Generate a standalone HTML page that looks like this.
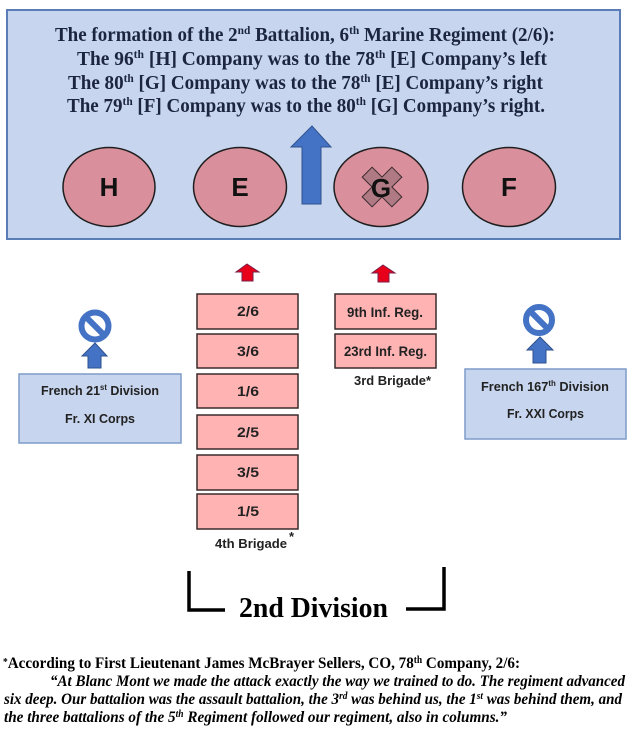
<!DOCTYPE html>
<html>
<head>
<meta charset="utf-8">
<style>
  html,body{margin:0;padding:0;background:#fff;}
  svg{display:block;}
  .serif{font-family:"Liberation Serif","Times New Roman",serif;}
  .sans{font-family:"Liberation Sans",Arial,sans-serif;}
</style>
</head>
<body>
<svg width="630" height="750" viewBox="0 0 630 750" xmlns="http://www.w3.org/2000/svg">
  <rect x="0" y="0" width="630" height="750" fill="#ffffff"/>

  <!-- Top box -->
  <rect x="7" y="10" width="613" height="229" fill="#c7d5ee" stroke="#5b7db5" stroke-width="2"/>

  <g class="serif" font-weight="bold" font-size="20" fill="#1c2540">
    <text x="55" y="41" textLength="500" lengthAdjust="spacingAndGlyphs">The formation of the 2<tspan dy="-7" font-size="12">nd</tspan><tspan dy="7"> Battalion, 6</tspan><tspan dy="-7" font-size="12">th</tspan><tspan dy="7"> Marine Regiment (2/6):</tspan></text>
    <text x="77" y="65" textLength="470" lengthAdjust="spacingAndGlyphs">The 96<tspan dy="-7" font-size="12">th</tspan><tspan dy="7"> [H] Company was to the 78</tspan><tspan dy="-7" font-size="12">th</tspan><tspan dy="7"> [E] Company’s left</tspan></text>
    <text x="68" y="89" textLength="475" lengthAdjust="spacingAndGlyphs">The 80<tspan dy="-7" font-size="12">th</tspan><tspan dy="7"> [G] Company was to the 78</tspan><tspan dy="-7" font-size="12">th</tspan><tspan dy="7"> [E] Company’s right</tspan></text>
    <text x="67" y="112" textLength="478" lengthAdjust="spacingAndGlyphs">The 79<tspan dy="-7" font-size="12">th</tspan><tspan dy="7"> [F] Company was to the 80</tspan><tspan dy="-7" font-size="12">th</tspan><tspan dy="7"> [G] Company’s right.</tspan></text>
  </g>

  <!-- Big blue arrow -->
  <polygon points="312,126 331,147 321,147 321,204 302,204 302,147 291,147" fill="#4472c4" stroke="#2f528f" stroke-width="1"/>

  <!-- Company circles -->
  <g fill="#d9909c" stroke="#1e1e1e" stroke-width="1.5">
    <ellipse cx="109" cy="187" rx="46" ry="39.5"/>
    <ellipse cx="240" cy="187" rx="46.5" ry="39.5"/>
    <ellipse cx="381" cy="187" rx="47" ry="39.5"/>
    <ellipse cx="509" cy="187" rx="46.5" ry="39.5"/>
  </g>
  <!-- X over G -->
  <g transform="translate(382,187) rotate(45)">
    <path d="M-7,-21 L7,-21 L7,-7 L21,-7 L21,7 L7,7 L7,21 L-7,21 L-7,7 L-21,7 L-21,-7 L-7,-7 Z" fill="#b07a84" stroke="#3a2a2e" stroke-width="1"/>
  </g>
  <g class="sans" font-weight="bold" font-size="26" fill="#111" text-anchor="middle">
    <text x="109" y="196">H</text>
    <text x="240" y="196">E</text>
    <text x="381" y="197">G</text>
    <text x="509" y="196">F</text>
  </g>

  <!-- Red arrows -->
  <polygon points="247,264 259,272 253,272 253,281 242,281 242,272 236,272" fill="#e8001a" stroke="#7a1f4a" stroke-width="1"/>
  <polygon points="383,265 395,273 389,273 389,282 378,282 378,273 372,273" fill="#e8001a" stroke="#7a1f4a" stroke-width="1"/>

  <!-- 4th Brigade column -->
  <g fill="#ffb3b3" stroke="#3a2a2a" stroke-width="1.5">
    <rect x="197" y="294" width="101" height="35"/>
    <rect x="197" y="334" width="101" height="34"/>
    <rect x="197" y="374" width="101" height="34"/>
    <rect x="197" y="415" width="101" height="34"/>
    <rect x="197" y="455" width="101" height="35"/>
    <rect x="197" y="494" width="101" height="35"/>
    <rect x="335" y="294" width="101" height="35"/>
    <rect x="335" y="334" width="101" height="34"/>
  </g>
  <g class="sans" font-weight="bold" font-size="14" fill="#222">
    <text x="237" y="316" textLength="22" lengthAdjust="spacingAndGlyphs">2/6</text>
    <text x="237" y="356" textLength="22" lengthAdjust="spacingAndGlyphs">3/6</text>
    <text x="237" y="396" textLength="22" lengthAdjust="spacingAndGlyphs">1/6</text>
    <text x="237" y="437" textLength="22" lengthAdjust="spacingAndGlyphs">2/5</text>
    <text x="237" y="477" textLength="22" lengthAdjust="spacingAndGlyphs">3/5</text>
    <text x="237" y="516" textLength="22" lengthAdjust="spacingAndGlyphs">1/5</text>
    <text x="347" y="317" textLength="76" lengthAdjust="spacingAndGlyphs">9th Inf. Reg.</text>
    <text x="344" y="356" textLength="83" lengthAdjust="spacingAndGlyphs">23rd Inf. Reg.</text>
    <text x="354" y="385" font-size="13" textLength="77" lengthAdjust="spacingAndGlyphs">3rd Brigade*</text>
    <text x="215" y="548" font-size="13" textLength="72" lengthAdjust="spacingAndGlyphs">4th Brigade</text>
    <text x="289" y="541" font-size="13">*</text>
  </g>

  <!-- French boxes -->
  <rect x="19" y="374" width="162" height="69" fill="#c7d5ee" stroke="#7f9cc9" stroke-width="1.5"/>
  <rect x="465" y="369" width="161" height="70" fill="#c7d5ee" stroke="#7f9cc9" stroke-width="1.5"/>
  <g class="sans" font-weight="bold" font-size="13" fill="#222">
    <text x="41" y="395" textLength="118" lengthAdjust="spacingAndGlyphs">French 21<tspan dy="-5" font-size="8">st</tspan><tspan dy="5"> Division</tspan></text>
    <text x="65" y="423" textLength="70" lengthAdjust="spacingAndGlyphs">Fr. XI Corps</text>
    <text x="481" y="391" textLength="128" lengthAdjust="spacingAndGlyphs">French 167<tspan dy="-5" font-size="8">th</tspan><tspan dy="5"> Division</tspan></text>
    <text x="507" y="418" textLength="77" lengthAdjust="spacingAndGlyphs">Fr. XXI Corps</text>
  </g>

  <!-- Blue small arrows -->
  <polygon points="95,343 107,356 101,356 101,368 88,368 88,356 82,356" fill="#4472c4" stroke="#2f528f" stroke-width="1"/>
  <polygon points="540,337 553,350 546,350 546,363 533,363 533,350 527,350" fill="#4472c4" stroke="#2f528f" stroke-width="1"/>

  <!-- No symbols -->
  <g stroke="#4472c4" fill="#ffffff">
    <circle cx="95" cy="326" r="13.5" stroke-width="6"/>
    <line x1="86" y1="317" x2="104" y2="335" stroke-width="6"/>
    <circle cx="539" cy="320" r="13" stroke-width="6"/>
    <line x1="530" y1="311" x2="548" y2="329" stroke-width="6"/>
  </g>

  <!-- 2nd Division bracket -->
  <g stroke="#000" stroke-width="3.5" fill="none">
    <polyline points="189,571 189,610 225,610"/>
    <polyline points="406,609 444,609 444,567"/>
  </g>
  <text class="serif" x="239" y="617" font-weight="bold" font-size="29" fill="#000" textLength="149" lengthAdjust="spacingAndGlyphs">2nd Division</text>

  <!-- Bottom quote -->
  <g class="serif" font-weight="bold" font-size="16" fill="#000">
    <text x="3" y="668" textLength="517" lengthAdjust="spacingAndGlyphs"><tspan font-size="10" dy="-3">*</tspan><tspan dy="3">According to First Lieutenant James McBrayer Sellers, CO, 78</tspan><tspan dy="-5" font-size="10">th</tspan><tspan dy="5"> Company, 2/6:</tspan></text>
    <g font-style="italic">
      <text x="50" y="686" textLength="575" lengthAdjust="spacingAndGlyphs">“At Blanc Mont we made the attack exactly the way we trained to do. The regiment advanced</text>
      <text x="4" y="704" textLength="618" lengthAdjust="spacingAndGlyphs">six deep. Our battalion was the assault battalion, the 3<tspan dy="-5" font-size="10">rd</tspan><tspan dy="5"> was behind us, the 1</tspan><tspan dy="-5" font-size="10">st</tspan><tspan dy="5"> was behind them, and</tspan></text>
      <text x="4" y="722" textLength="503" lengthAdjust="spacingAndGlyphs">the three battalions of the 5<tspan dy="-5" font-size="10">th</tspan><tspan dy="5"> Regiment followed our regiment, also in columns.”</tspan></text>
    </g>
  </g>
</svg>
</body>
</html>
